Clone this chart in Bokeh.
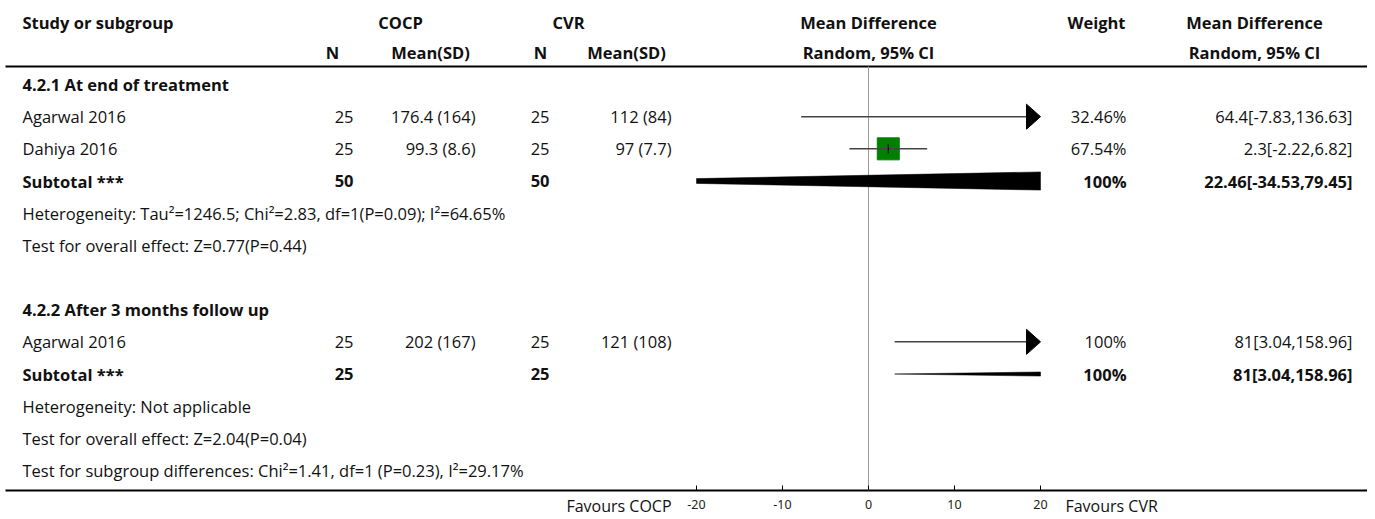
from bokeh.plotting import figure
from bokeh.models import Range1d, LinearAxis, FixedTicker, ColumnDataSource
from bokeh.core.properties import value
from bokeh.embed import file_html
from bokeh.resources import INLINE

FONT = "Open Sans"
FSIZE = "16.5px"

# ---------------- data ----------------
row_labels = [
    "4.2.1 At end of treatment",
    "Agarwal 2016",
    "Dahiya 2016",
    "Subtotal ***",
    "Heterogeneity: Tau\u00b2=1246.5; Chi\u00b2=2.83, df=1(P=0.09); I\u00b2=64.65%",
    "Test for overall effect: Z=0.77(P=0.44)",
    "",
    "4.2.2 After 3 months follow up",
    "Agarwal 2016",
    "Subtotal ***",
    "Heterogeneity: Not applicable",
    "Test for overall effect: Z=2.04(P=0.04)",
    "Test for subgroup differences: Chi\u00b2=1.41, df=1 (P=0.23), I\u00b2=29.17%",
]
row_bold = [1, 0, 0, 1, 0, 0, 0, 1, 0, 1, 0, 0, 0]
cocp_n = ["", "25", "25", "50", "", "", "", "", "25", "25", "", "", ""]
cocp_mean = ["", "176.4 (164)", "99.3 (8.6)", "", "", "", "", "", "202 (167)", "", "", "", ""]
cvr_n = ["", "25", "25", "50", "", "", "", "", "25", "25", "", "", ""]
cvr_mean = ["", "112 (84)", "97 (7.7)", "", "", "", "", "", "121 (108)", "", "", "", ""]
weight_txt = ["", "32.46%", "67.54%", "100%", "", "", "", "", "100%", "100%", "", "", ""]
ci_txt = ["", "64.4[-7.83,136.63]", "2.3[-2.22,6.82]", "22.46[-34.53,79.45]", "", "", "", "",
          "81[3.04,158.96]", "81[3.04,158.96]", "", "", ""]

header1 = ["Study or subgroup", "COCP", "CVR", "Mean Difference", "Weight", "Mean Difference"]
header2 = ["N", "Mean(SD)", "N", "Mean(SD)", "Random, 95% CI", "Random, 95% CI"]

study_rows = [1, 2, 8]
study_md = [64.4, 2.3, 81.0]
study_lo = [-7.83, -2.22, 3.04]
study_hi = [136.63, 6.82, 158.96]
study_w = [32.46, 67.54, 100.0]

total_rows = [3, 9]
total_md = [22.46, 81.0]
total_lo = [-34.53, 3.04]
total_hi = [79.45, 158.96]

axis_ticks = [-20, -10, 0, 10, 20]
axis_tick_labels = ["-20", "-10", "0", "10", "20"]
favours_left = "Favours COCP"
favours_right = "Favours CVR"

# ---------------- layout ----------------
W, H = 1367, 516
ZERO_PX = 868                # x pixel of MD = 0
PX_PER_UNIT = 8.6
AX_MIN, AX_MAX = -20, 20
AXIS_Y = 490                 # y pixel of axis line
ROW0, ROW_STEP = 84, 32.17
HDR1_Y, HDR2_Y, RULE_Y = 22, 52, 66
RULE_X0 = 5

def row_y(i):
    return ROW0 + ROW_STEP * i

x_start = (0 - ZERO_PX) / PX_PER_UNIT
x_end = (W - ZERO_PX) / PX_PER_UNIT

p = figure(width=W, height=H, output_backend="svg", toolbar_location=None,
           x_range=Range1d(x_start, x_end), y_range=Range1d(H, 0),
           x_axis_type=None, y_axis_type=None, min_border=0)
p.extra_x_ranges = {"px": Range1d(0, W)}
p.outline_line_color = None
p.xgrid.visible = False
p.ygrid.visible = False
p.background_fill_color = "white"

# axis (fixed inside the frame at the bottom rule)
ax = LinearAxis(ticker=FixedTicker(ticks=axis_ticks), fixed_location=AXIS_Y)
ax.major_label_overrides = {t: s for t, s in zip(axis_ticks, axis_tick_labels)}
ax.axis_line_alpha = 0
ax.major_tick_in = 5
ax.major_tick_out = 0
ax.minor_tick_in = 0
ax.minor_tick_out = 0
ax.major_tick_line_color = "black"
ax.major_label_text_font = "Noto Sans"
ax.major_label_text_font_size = "12.5px"
ax.major_label_text_color = "#222222"
ax.major_label_standoff = 9
p.add_layout(ax, "below")

# header rule, bottom rule and zero line
p.segment(x0=[RULE_X0, RULE_X0], x1=[W, W], y0=[RULE_Y, AXIS_Y], y1=[RULE_Y, AXIS_Y],
          x_range_name="px", line_color="black", line_width=2)
p.segment(x0=[0], x1=[0], y0=[RULE_Y], y1=[AXIS_Y], line_color="#999999", line_width=1)

# ---------------- texts ----------------
def add_text(xs, ys, texts, align, styles, size=FSIZE, rng="px"):
    src = ColumnDataSource(dict(x=xs, y=ys, t=texts, s=styles))
    kw = dict(x_range_name=rng) if rng else {}
    p.text(x="x", y="y", text="t", source=src,
           text_font=value(FONT), text_font_size=size, text_font_style="s",
           text_align=align, text_baseline="middle", text_color="#111111", **kw)

h1_x = [22, 400, 568, ZERO_PX, 1096, 1254]
h1_align = ["left", "center", "center", "center", "center", "center"]
for xx, tt, al in zip(h1_x, header1, h1_align):
    add_text([xx], [HDR1_Y], [tt], al, ["bold"])
h2_x = [332, 430, 540, 626, ZERO_PX, 1254]
add_text(h2_x, [HDR2_Y] * len(header2), header2, "center", ["bold"] * len(header2))

ys = [row_y(i) for i in range(len(row_labels))]
styles = ["bold" if b else "normal" for b in row_bold]
add_text([22] * len(ys), ys, row_labels, "left", styles)
add_text([353] * len(ys), ys, cocp_n, "right", styles)
add_text([475] * len(ys), ys, cocp_mean, "right", styles)
add_text([549] * len(ys), ys, cvr_n, "right", styles)
add_text([671] * len(ys), ys, cvr_mean, "right", styles)
add_text([1126] * len(ys), ys, weight_txt, "right", styles)
add_text([1352] * len(ys), ys, ci_txt, "right", styles)

# ---------------- forest marks ----------------
head_len = 14 / PX_PER_UNIT
head_half = 12.5
line_x0, line_x1, line_y = [], [], []
tri_xs, tri_ys = [], []
box_x, box_y, box_s = [], [], []
for r, md, lo, hi, w in zip(study_rows, study_md, study_lo, study_hi, study_w):
    y = row_y(r)
    a = max(lo, AX_MIN)
    b = min(hi, AX_MAX)
    line_x0.append(a)
    line_x1.append(b - (head_len if hi > AX_MAX else 0))
    line_y.append(y)
    if hi > AX_MAX:
        tri_xs.append([AX_MAX - head_len, AX_MAX, AX_MAX - head_len])
        tri_ys.append([y - head_half, y, y + head_half])
    if lo < AX_MIN:
        tri_xs.append([AX_MIN + head_len, AX_MIN, AX_MIN + head_len])
        tri_ys.append([y - head_half, y, y + head_half])
    if AX_MIN <= md <= AX_MAX:
        box_x.append(md)
        box_y.append(y)
        box_s.append(22 * (w / 67.54) ** 0.5)

p.scatter(x=box_x, y=box_y, size=box_s, marker="square",
          fill_color="#008000", line_color="#008000")
p.segment(x0=line_x0, x1=line_x1, y0=line_y, y1=line_y, line_color="#444444", line_width=1.5)
p.segment(x0=box_x, x1=box_x, y0=[y - 4.5 for y in box_y], y1=[y + 4.5 for y in box_y],
          line_color="black", line_width=1)
if tri_xs:
    p.patches(xs=tri_xs, ys=tri_ys, fill_color="black", line_color="black", line_width=1)

# diamonds (clipped to axis range)
dia_half = 9.5
d_xs, d_ys = [], []
for r, md, lo, hi in zip(total_rows, total_md, total_lo, total_hi):
    y = row_y(r)
    def hh(x, md=md, lo=lo, hi=hi):
        if x <= md:
            return dia_half * (x - lo) / (md - lo)
        return dia_half * (hi - x) / (hi - md)
    xl, xr = max(lo, AX_MIN), min(hi, AX_MAX)
    top = [xl] + ([md] if xl < md < xr else []) + [xr]
    d_xs.append(top + top[::-1])
    d_ys.append([y - hh(x) for x in top] + [y + hh(x) for x in top[::-1]])
p.patches(xs=d_xs, ys=d_ys, fill_color="black", line_color="black", line_width=0.5)

# favours labels (placed just outside the axis ticks)
fav_off = 22.9
FAV_Y = 505.5
add_text([-fav_off], [FAV_Y], [favours_left], "right", ["normal"], size="16px", rng=None)
add_text([fav_off], [FAV_Y], [favours_right], "left", ["normal"], size="16px", rng=None)

open("out.html", "w").write(file_html(p, INLINE))
